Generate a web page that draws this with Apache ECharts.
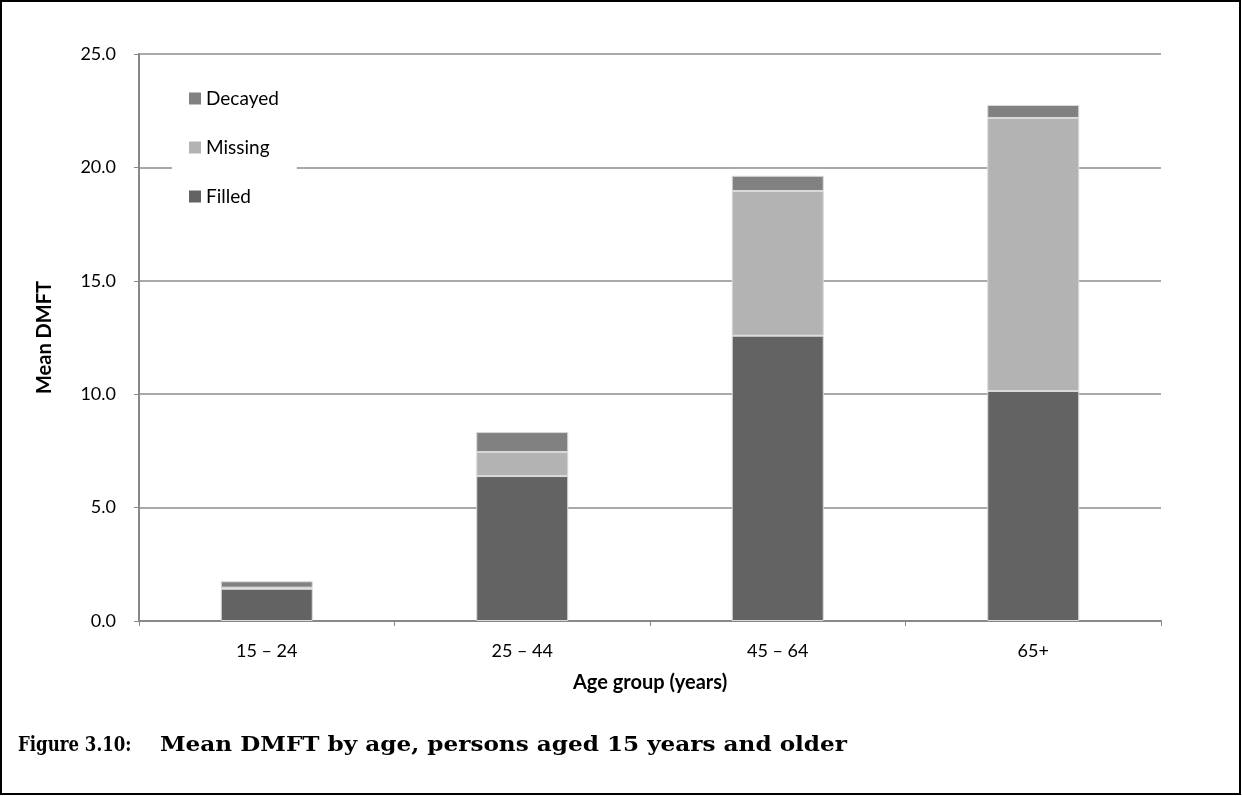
<!DOCTYPE html>
<html>
<head>
<meta charset="utf-8">
<script src="https://cdn.jsdelivr.net/npm/echarts@6/dist/echarts.min.js"></script>
<style>
html,body{margin:0;padding:0;background:#fff;}
#chart{width:1242px;height:796px;}
</style>
</head>
<body>
<div id="chart"></div>
<script>
const categories = ['15 – 24', '25 – 44', '45 – 64', '65+'];
const filled = [1.42, 6.39, 12.58, 10.14];
const missing = [0.05, 1.06, 6.38, 12.04];
const decayed = [0.28, 0.88, 0.67, 0.57];
const yTicks = [0, 5, 10, 15, 20, 25];
const seriesNames = ['Filled', 'Missing', 'Decayed'];
const legendOrder = ['Decayed', 'Missing', 'Filled'];
const figureLabel = 'Figure 3.10:';
const figureTitle = 'Mean DMFT by age, persons aged 15 years and older';

const colors = {Filled: '#636363', Missing: '#b3b3b3', Decayed: '#818181'};
const values = {Filled: filled, Missing: missing, Decayed: decayed};
const uiFont = 'Lato, "Open Sans", sans-serif';

const chart = echarts.init(document.getElementById('chart'), null, {renderer: 'canvas'});
chart.setOption({
  animation: false,
  backgroundColor: '#fff',
  grid: {left: 139, right: 81, top: 54, bottom: 175, containLabel: false},
  legend: {
    data: legendOrder,
    orient: 'vertical',
    left: 172, top: 77,
    backgroundColor: '#fff',
    padding: [12, 18, 12, 17],
    itemWidth: 12, itemHeight: 12, itemGap: 30,
    icon: 'rect',
    itemStyle: {borderWidth: 0},
    textStyle: {fontFamily: uiFont, fontSize: 19, color: '#000'}
  },
  xAxis: {
    type: 'category',
    data: categories,
    name: 'Age group (years)',
    nameLocation: 'middle',
    nameGap: 52,
    nameTextStyle: {fontFamily: uiFont, fontSize: 20, fontWeight: 'bold', color: '#000', verticalAlign: 'top'},
    axisLine: {lineStyle: {color: '#888', width: 2}},
    axisTick: {show: true, length: 5, lineStyle: {color: '#888', width: 1}, alignWithLabel: false},
    axisLabel: {fontFamily: uiFont, fontSize: 18, color: '#000', margin: 21}
  },
  yAxis: {
    type: 'value',
    min: yTicks[0], max: yTicks[yTicks.length - 1], interval: 5,
    name: 'Mean DMFT',
    nameLocation: 'middle',
    nameGap: 84,
    nameRotate: 90,
    nameTextStyle: {fontFamily: uiFont, fontSize: 20, fontWeight: 'bold', color: '#000'},
    axisLine: {show: true, lineStyle: {color: '#888', width: 2}},
    axisTick: {show: true, length: 5, lineStyle: {color: '#888', width: 1}},
    axisLabel: {fontFamily: uiFont, fontSize: 18, color: '#000', margin: 23,
      formatter: v => v.toFixed(1)},
    splitLine: {show: true, lineStyle: {color: '#8c8c8c', width: 1.5}}
  },
  series: seriesNames.map(n => ({
    name: n,
    type: 'bar',
    stack: 'total',
    barWidth: '36%',
    data: values[n],
    itemStyle: {color: colors[n], borderColor: '#d9d9d9', borderWidth: 1}
  })),
  graphic: [
    {type: 'rect', shape: {x: 1, y: 1, width: 1239, height: 793},
      style: {fill: 'none', stroke: '#000', lineWidth: 2}, z: 100},
    {type: 'text', x: 18, y: 736, scaleX: 0.83,
      style: {x: 0, y: 0, text: figureLabel, font: 'bold 20px "DejaVu Serif", serif', fill: '#000', verticalAlign: 'top'}},
    {type: 'text', x: 160, y: 736, scaleX: 1.157,
      style: {x: 0, y: 0, text: figureTitle, font: 'bold 20px "DejaVu Serif", serif', fill: '#000', verticalAlign: 'top'}}
  ]
});
</script>
</body>
</html>
